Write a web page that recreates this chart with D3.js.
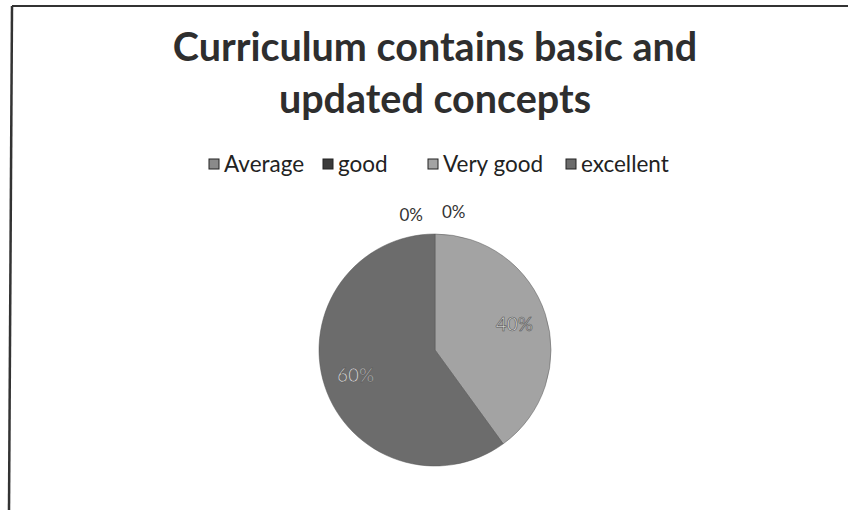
<!DOCTYPE html>
<html>
<head>
<meta charset="utf-8">
<script src="https://cdn.jsdelivr.net/npm/d3@7"></script>
<style>
  body { margin: 0; background: #fff; }
  svg { display: block; }
</style>
</head>
<body>
<div id="piechart"><svg></svg></div>
<script>
// chart data
const titleLines = ['Curriculum contains basic and', 'updated concepts'];
const categories = ['Average', 'good', 'Very good', 'excellent'];
const values = [0, 0, 40, 60];
const colors = ['#8a8a8a', '#3a3a3a', '#a3a3a3', '#6c6c6c'];

const width = 848, height = 510;
const cx = 435, cy = 350, radius = 116;

const svg = d3.select('#piechart svg')
    .attr('width', width)
    .attr('height', height);

// scanned frame (top and left edges only visible)
svg.append('line')
    .attr('x1', 12).attr('y1', 6).attr('x2', width).attr('y2', 6)
    .style('stroke', '#333').style('stroke-width', 2);
svg.append('line')
    .attr('x1', 12).attr('y1', 6).attr('x2', 9).attr('y2', height)
    .style('stroke', '#333').style('stroke-width', 2.5);

// title
svg.append('g').selectAll('text')
    .data(titleLines)
    .enter().append('text')
    .attr('x', cx)
    .attr('y', (d, i) => 61 + i * 52)
    .attr('text-anchor', 'middle')
    .style('font-family', 'Lato, "Open Sans", sans-serif')
    .style('font-weight', 'bold')
    .style('font-size', '39.5px')
    .style('fill', '#2e2e2e')
    .text(d => d);

// legend
const legendX = [209, 323, 428, 566];
const legend = svg.append('g').selectAll('g')
    .data(categories)
    .enter().append('g')
    .attr('transform', (d, i) => 'translate(' + legendX[i] + ',164)');

legend.append('rect')
    .attr('x', 0).attr('y', -5)
    .attr('width', 10).attr('height', 10)
    .style('fill', (d, i) => colors[i])
    .style('stroke', '#222').style('stroke-width', 1);

legend.append('text')
    .attr('x', 15)
    .attr('y', 0)
    .attr('dy', '0.35em')
    .style('font-family', 'Lato, "Open Sans", sans-serif')
    .style('font-size', '22.5px')
    .style('fill', '#222')
    .text(d => d);

// pie
const pie = d3.pie().sort(null).value(d => d);
const arcs = pie(values);
const arc = d3.arc().innerRadius(0).outerRadius(radius);
const labelArc = d3.arc().innerRadius(radius * 0.72).outerRadius(radius * 0.72);

const g = svg.append('g').attr('transform', 'translate(' + cx + ',' + cy + ')');

g.selectAll('path')
    .data(arcs)
    .enter().append('path')
    .attr('d', arc)
    .style('fill', (d, i) => colors[i])
    .style('stroke', '#555')
    .style('stroke-width', 0.5);

// labels: inside for non-zero slices, above the pie for zero slices
const fmt = d => Math.round(d) + '%';

g.selectAll('text.inner')
    .data(arcs.filter(d => d.value > 0))
    .enter().append('text')
    .attr('class', 'inner')
    .attr('transform', d => 'translate(' + labelArc.centroid(d) + ')')
    .attr('text-anchor', 'middle')
    .attr('dy', '0.35em')
    .style('font-family', 'Lato, "Open Sans", sans-serif')
    .style('font-size', '19px')
    .style('fill', '#d4d4d4')
    .style('stroke', '#555')
    .style('stroke-width', 0.6)
    .text(d => fmt(d.value));

const zeroArcs = arcs.filter(d => d.value === 0);
g.selectAll('text.outer')
    .data(zeroArcs)
    .enter().append('text')
    .attr('class', 'outer')
    .attr('x', (d, i) => i === 0 ? -12 : 7)
    .attr('y', (d, i) => i === 0 ? -radius - 13 : -radius - 16)
    .attr('text-anchor', (d, i) => i === 0 ? 'end' : 'start')
    .style('font-family', 'Lato, "Open Sans", sans-serif')
    .style('font-size', '17px')
    .style('fill', '#333')
    .text(d => fmt(d.value));
</script>
</body>
</html>
